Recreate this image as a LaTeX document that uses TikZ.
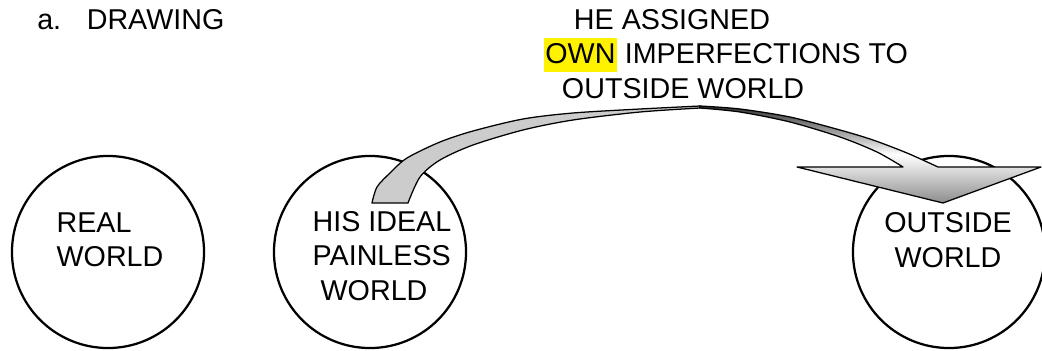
\documentclass[tikz,border=0pt]{standalone}
\usepackage{fontspec}
\setmainfont{Liberation Sans}
\usetikzlibrary{positioning}
\newcommand{\hlword}[1]{{\setlength{\fboxsep}{0pt}\colorbox{yellow}{\rule[-0.28em]{0pt}{1.18em}\kern1pt#1\kern1pt}}}

\begin{document}
\begin{tikzpicture}[
  x=0.025cm, y=-0.025cm,
  world/.style={draw, circle, line width=1.6pt, minimum size=4.8cm, inner sep=0pt},
  txt/.style={inner sep=0pt, font=\fontsize{20.4}{24.5}\selectfont},
  face/.style={draw, line width=0.9pt, line join=round}
]
  \useasboundingbox (0,0) rectangle (1042,350);

  \node[world] (real) at (108,252) {};
  \node[world] (ideal) at (370,252) {};
  \node[world] (outside) at (949,252) {};

  % curved arrow: front face
  \filldraw[face, fill=gray!40]
    plot[smooth] coordinates {(372,203) (377,187) (390,173) (407,158) (440,142)
      (473,131) (523,119) (573,113) (640,109) (700,106)}
    -- plot[smooth] coordinates {(700,108) (640,112) (573,120) (523,130) (473,145)
      (440,160) (420,177) (408,203)} -- cycle;
  % back face and head
  \shadedraw[face, top color=black!80, bottom color=black!45, middle color=white]
    plot[smooth] coordinates {(700,106) (740,109) (790,117) (840,130) (873,140)
      (907,153) (938,167)}
    -- (1041,167) -- (943,203) -- (797,167)
    -- plot[smooth] coordinates {(903,167) (877,152) (840,137) (790,122) (740,112)
      (700,108)} -- cycle;

  \node[txt, anchor=base west] (title) at (37,29) {a.\hspace{0.64cm}DRAWING};
  \node[txt, align=left] (note) at (726,54)
    {\hspace*{0.75cm}HE ASSIGNED\\\hlword{OWN} IMPERFECTIONS TO\\\hspace*{0.45cm}OUTSIDE WORLD};
  \node[txt, align=left] (realtxt) at (110,240) {REAL\\WORLD};
  \node[txt, align=left] (idealtxt) at (382,256) {HIS IDEAL\\PAINLESS\\\hspace*{0.2cm}WORLD};
  \node[txt, align=center] (outsidetxt) at (948,240) {OUTSIDE\\WORLD};
\end{tikzpicture}
\end{document}
